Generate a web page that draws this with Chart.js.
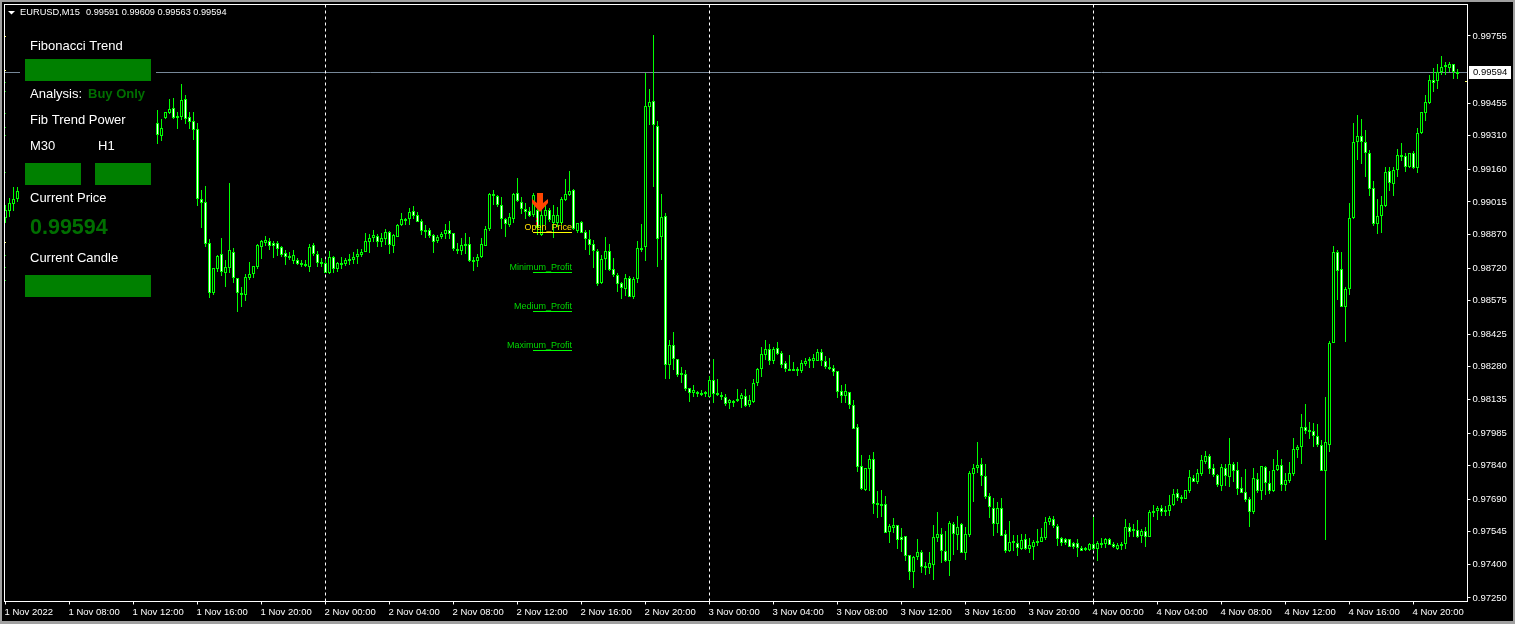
<!DOCTYPE html>
<html><head><meta charset="utf-8">
<style>
html,body{margin:0;padding:0;background:#000;overflow:hidden;width:1515px;height:624px}
canvas{position:absolute;left:0;top:0}
</style>
<script src="https://cdn.jsdelivr.net/npm/chart.js@4"></script>
</head><body>
<canvas id="c" width="1515" height="624"></canvas>
<script>
// prices are in points (1 point = 0.00001); candles 4..37 lie behind the panel and cannot be read
const HIDDEN = new Array(34).fill(null);
const opens = [98943,98975,99006,99028,...HIDDEN,
99367,99309,99389,99411,99434,99398,99394,99474,99394,99376,
99340,99028,99015,98832,98609,98716,98783,98698,98720,98792,
98676,98609,98600,98676,98694,98725,98814,98832,98841,98832,
98832,98814,98787,98774,98752,98756,98743,98738,98725,98823,
98783,98747,98743,98698,98770,98716,98734,98738,98752,98756,
98770,98778,98792,98836,98854,98863,98836,98850,98881,98819,
98859,98912,98935,98939,98975,98957,98930,98890,98890,98868,
98841,98859,98872,98890,98876,98805,98796,98823,98827,98756,
98752,98770,98819,98894,99050,99041,99002,98939,98912,98939,
99055,99015,98983,98975,98957,98979,98868,98952,98979,98921,
98921,98921,99024,99046,99068,98885,98925,98881,98850,98827,
98796,98654,98761,98796,98716,98689,98654,98627,98676,98591,
98671,98805,98814,99438,99465,99353,98859,98952,98288,98377,
98315,98252,98248,98186,98163,98168,98163,98159,98146,98221,
98163,98155,98146,98119,98128,98128,98137,98150,98110,98123,
98208,98270,98333,98359,98306,98364,98342,98297,98270,98270,
98270,98261,98293,98306,98306,98306,98346,98306,98279,98275,
98261,98172,98150,98168,98110,98012,97838,97731,97825,97869,
97673,97669,97669,97544,97562,97575,97522,97526,97441,97365,
97432,97455,97392,97383,97397,97517,97535,97459,97415,97580,
97531,97580,97450,97531,97803,97829,97847,97794,97704,97651,
97580,97651,97535,97459,97495,97495,97468,97513,97468,97477,
97499,97499,97517,97588,97602,97571,97517,97513,97513,97495,
97495,97472,97464,97464,97490,97468,97495,97490,97513,97490,
97468,97481,97490,97566,97557,97553,97526,97548,97522,97629,
97638,97651,97642,97638,97664,97718,97700,97691,97727,97785,
97767,97803,97856,97883,97829,97798,97749,97829,97789,97847,
97820,97740,97722,97691,97633,97780,97727,97834,97763,97727,
97820,97843,97754,97771,97803,97909,97923,98012,97999,97994,
97972,97932,97816,97932,98386,98792,98716,98547,98627,98943,
99282,99309,99282,99233,99077,98917,98952,98997,99153,99095,
99157,99219,99219,99171,99233,99166,99322,99411,99456,99558,
99554,99594,99616,99612,99630,99591];
const highs = [99002,99032,99082,99082,...HIDDEN,
99425,99385,99416,99474,99478,99416,99541,99492,99416,99416,
99367,99068,99086,98850,98720,98778,98854,98756,99099,98810,
98676,98636,98694,98747,98729,98827,98845,98863,98854,98841,
98841,98819,98801,98792,98801,98765,98756,98756,98827,98832,
98796,98765,98756,98796,98774,98747,98770,98765,98783,98792,
98805,98805,98876,98872,98890,98872,98876,98894,98885,98872,
98917,98966,98943,98988,98997,98970,98939,98912,98899,98872,
98868,98881,98917,98930,98876,98832,98854,98876,98859,98770,
98783,98854,98908,99055,99068,99046,99037,98943,98966,99055,
99122,99037,99010,98992,99055,99046,98979,99002,98988,99002,
98992,99037,99117,99153,99073,98921,98930,98890,98890,98845,
98805,98778,98859,98827,98765,98698,98658,98694,98685,98680,
98841,98917,99590,99518,99759,99376,99050,98966,98400,98435,
98315,98279,98266,98186,98199,98172,98177,98172,98239,98315,
98226,98168,98159,98137,98132,98181,98163,98181,98155,98226,
98275,98368,98400,98382,98368,98391,98351,98306,98333,98302,
98279,98310,98319,98324,98337,98359,98359,98328,98319,98288,
98261,98199,98204,98168,98132,98025,97887,97829,97887,97900,
97727,97731,97704,97579,97606,97575,97562,97526,97441,97437,
97513,97464,97410,97455,97575,97633,97562,97548,97593,97588,
97615,97584,97566,97816,97847,97945,97874,97847,97718,97695,
97678,97695,97553,97593,97531,97531,97535,97535,97517,97508,
97557,97562,97611,97615,97615,97579,97522,97517,97513,97499,
97513,97481,97477,97495,97611,97504,97517,97517,97517,97499,
97495,97499,97602,97584,97580,97597,97557,97566,97642,97664,
97660,97664,97660,97709,97736,97736,97709,97731,97820,97798,
97825,97887,97905,97891,97847,97803,97847,97847,97963,97856,
97856,97789,97825,97700,97829,97807,97838,97838,97816,97869,
97909,97869,97807,97856,97963,97932,98070,98114,98034,98030,
98025,97954,98146,98395,98819,98801,98792,98636,99010,99367,
99402,99385,99336,99246,99108,99028,99041,99171,99171,99171,
99251,99278,99233,99233,99242,99345,99416,99492,99581,99612,
99630,99665,99639,99639,99630,99609];
const lows = [98921,98948,98975,99015,...HIDDEN,
99273,99287,99385,99407,99385,99340,99380,99362,99340,99291,
98997,98899,98814,98587,98600,98703,98685,98636,98698,98654,
98524,98547,98573,98667,98676,98716,98761,98819,98801,98765,
98774,98770,98734,98756,98738,98734,98725,98725,98703,98774,
98725,98725,98698,98694,98698,98703,98716,98729,98734,98738,
98738,98770,98792,98787,98836,98814,98814,98823,98783,98787,
98859,98908,98912,98912,98939,98925,98868,98854,98854,98787,
98832,98850,98850,98850,98796,98783,98778,98783,98747,98707,
98725,98765,98819,98885,99002,98992,98894,98859,98903,98921,
99015,98961,98939,98948,98948,98868,98863,98912,98925,98854,
98903,98912,99019,99041,98890,98876,98876,98801,98778,98720,
98640,98649,98712,98707,98680,98614,98582,98596,98591,98582,
98654,98792,98752,99358,99082,98725,98756,98226,98226,98266,
98235,98208,98172,98123,98146,98146,98150,98146,98146,98119,
98150,98132,98105,98092,98101,98123,98096,98101,98101,98119,
98195,98235,98310,98288,98293,98333,98275,98257,98266,98261,
98239,98252,98284,98275,98275,98306,98284,98270,98266,98239,
98141,98119,98119,98092,98003,97811,97731,97727,97727,97624,
97606,97611,97539,97495,97539,97468,97455,97415,97330,97294,
97419,97361,97352,97357,97330,97499,97406,97410,97348,97441,
97464,97450,97419,97522,97678,97807,97749,97691,97606,97526,
97540,97526,97450,97455,97459,97437,97464,97464,97450,97419,
97481,97499,97508,97575,97562,97481,97481,97486,97477,97468,
97432,97459,97459,97459,97464,97415,97472,97472,97486,97472,
97464,97464,97468,97522,97522,97517,97495,97477,97522,97611,
97597,97615,97615,97615,97660,97682,97673,97691,97718,97767,
97758,97794,97847,97803,97789,97745,97727,97749,97745,97767,
97709,97718,97678,97566,97624,97718,97687,97709,97713,97722,
97816,97727,97727,97762,97794,97874,97847,97981,97958,97923,
97923,97816,97508,97900,98386,98578,98547,98391,98600,98939,
99202,99184,99126,99041,98908,98872,98876,98992,99064,99041,
99126,99197,99148,99166,99162,99144,99318,99376,99451,99505,
99518,99581,99581,99594,99563,99563];
const closes = [98979,99010,99028,99064,...HIDDEN,
99313,99344,99416,99429,99389,99389,99469,99385,99371,99336,
99028,99010,98827,98609,98720,98774,98703,98725,98801,98676,
98609,98600,98680,98694,98729,98823,98841,98845,98819,98819,
98805,98778,98770,98770,98778,98738,98734,98729,98814,98783,
98743,98738,98698,98770,98716,98743,98743,98756,98761,98770,
98783,98792,98841,98854,98868,98836,98854,98881,98823,98868,
98912,98939,98939,98970,98952,98925,98885,98885,98863,98836,
98859,98872,98890,98872,98805,98796,98823,98827,98752,98752,
98770,98827,98894,99050,99046,99002,98939,98917,98948,99050,
99019,98983,98970,98952,99046,98899,98957,98979,98935,98957,
98957,99028,99050,99064,98894,98921,98876,98850,98823,98796,
98649,98761,98796,98712,98689,98649,98631,98676,98591,98671,
98810,98810,99443,99460,99358,98850,98948,98288,98377,98315,
98243,98243,98181,98163,98177,98159,98155,98168,98221,98159,
98155,98146,98114,98132,98123,98137,98155,98105,98132,98208,
98270,98337,98359,98306,98359,98337,98288,98270,98266,98266,
98261,98297,98306,98315,98319,98346,98306,98279,98275,98257,
98168,98150,98172,98110,98003,97834,97736,97829,97869,97669,
97669,97660,97540,97571,97575,97508,97508,97437,97365,97432,
97455,97388,97383,97406,97522,97535,97459,97415,97584,97535,
97566,97450,97535,97807,97829,97843,97794,97700,97656,97580,
97651,97526,97459,97499,97504,97472,97508,97468,97486,97499,
97504,97522,97588,97606,97571,97513,97495,97495,97477,97477,
97472,97459,97472,97490,97468,97495,97486,97513,97486,97477,
97486,97490,97566,97544,97548,97522,97548,97522,97633,97638,
97651,97633,97633,97664,97713,97695,97691,97731,97789,97767,
97807,97865,97883,97825,97798,97754,97834,97794,97847,97816,
97736,97718,97687,97633,97785,97727,97838,97763,97727,97820,
97843,97754,97776,97807,97914,97923,98012,97994,97990,97972,
97932,97816,97945,98386,98792,98707,98547,98627,98943,99282,
99309,99282,99233,99073,98917,98952,99002,99148,99099,99157,
99224,99224,99171,99233,99166,99322,99416,99460,99558,99545,
99594,99616,99625,99630,99594,99594];

const priceTicks = [99755,99455,99310,99160,99015,98870,98720,98575,98425,98280,98135,97985,97840,97690,97545,97400,97250];
const timeTickIndex = [0,16,32,48,64,80,96,112,128,144,160,176,192,208,224,240,256,272,288,304,320,336,352];
const timeLabels = ['1 Nov 2022','1 Nov 08:00','1 Nov 12:00','1 Nov 16:00','1 Nov 20:00','2 Nov 00:00','2 Nov 04:00','2 Nov 08:00','2 Nov 12:00','2 Nov 16:00','2 Nov 20:00','3 Nov 00:00','3 Nov 04:00','3 Nov 08:00','3 Nov 12:00','3 Nov 16:00','3 Nov 20:00','4 Nov 00:00','4 Nov 04:00','4 Nov 08:00','4 Nov 12:00','4 Nov 16:00','4 Nov 20:00'];
const separatorIndex = [80,176,272];
const lastPrice = 99594;
const AXISFONT = '"Liberation Sans"';

const visible = opens.map((o,i)=>i).filter(i=>opens[i]!==null);
const wickData = visible.map(i=>({x:i,y:[lows[i],highs[i]]}));
const bodyData = visible.map(i=>({x:i,y:[Math.min(opens[i],closes[i]),Math.max(opens[i],closes[i])]}));
const bodyFill = visible.map(i=>closes[i]>=opens[i]?'#000000':'#ffffff');

const snap = {
  id:'snap',
  afterDatasetsUpdate(chart){
    chart.data.datasets.forEach((d,di)=>{
      const min=di===1?2:1;
      chart.getDatasetMeta(di).data.forEach(el=>{
        let t=Math.round(Math.min(el.y,el.base)), b=Math.round(Math.max(el.y,el.base));
        if(b-t<min) b=t+min;
        el.y=t; el.base=b; el.height=b-t;
      });
    });
  }
};

function text(ctx,s,x,y,font,color,align){
  ctx.font=font; ctx.fillStyle=color; ctx.textAlign=align||'left'; ctx.textBaseline='middle';
  ctx.fillText(s,x,y);
}

const decor = {
  id:'decor',
  beforeDatasetsDraw(chart){
    const ctx=chart.ctx, a=chart.chartArea, xs=chart.scales.x, ys=chart.scales.y;
    ctx.save();
    const py=Math.round(ys.getPixelForValue(lastPrice))+0.5;
    ctx.strokeStyle='#778899'; ctx.lineWidth=1;
    ctx.beginPath(); ctx.moveTo(a.left,py); ctx.lineTo(a.right,py); ctx.stroke();
    ctx.strokeStyle='#ffffff'; ctx.setLineDash([3,3]);
    separatorIndex.forEach(i=>{
      const x=xs.getPixelForValue(i);
      ctx.beginPath(); ctx.moveTo(x,a.top); ctx.lineTo(x,a.bottom); ctx.stroke();
    });
    ctx.restore();
  },
  afterDraw(chart){
    const ctx=chart.ctx, a=chart.chartArea;
    ctx.save();
    // plot frame
    ctx.strokeStyle='#ffffff'; ctx.lineWidth=1;
    ctx.strokeRect(a.left,a.top,a.right-a.left,a.bottom-a.top);
    // window edge
    ctx.fillStyle='#a0a0a0';
    ctx.fillRect(0,0,1515,2); ctx.fillRect(0,0,2,624); ctx.fillRect(1513,0,2,624); ctx.fillRect(0,621,1515,3);
    // small level marks on the frame
    ctx.fillStyle='#ffff66';
    [36,70,242].forEach(y=>ctx.fillRect(5,y,1,1));
    ctx.fillRect(1465,81,2,1);
    ctx.fillStyle='#00c000';
    [82,91,113,127,135,172,255,267,280].forEach(y=>ctx.fillRect(5,y,1,1));
    // header
    ctx.fillStyle='#ffffff';
    ctx.beginPath(); ctx.moveTo(8,11); ctx.lineTo(15,11); ctx.lineTo(11.5,14.5); ctx.closePath(); ctx.fill();
    text(ctx,'EURUSD,M15',20,12.5,'9.3px '+AXISFONT,'#ffffff');
    text(ctx,'0.99591 0.99609 0.99563 0.99594',86,12.5,'9.2px '+AXISFONT,'#ffffff');
    // current price tag
    ctx.fillStyle='#ffffff'; ctx.fillRect(1469,66,42,13);
    text(ctx,'0.99594',1473,72.5,'9.5px '+AXISFONT,'#000000');
    // panel
    ctx.fillStyle='#000000'; ctx.fillRect(20,25,136,278);
    const G='#008000';
    ctx.fillStyle=G;
    ctx.fillRect(25,59,126,22); ctx.fillRect(25,163,56,22); ctx.fillRect(95,163,56,22); ctx.fillRect(25,275,126,22);
    const F='13px "Liberation Sans"', W='#ffffff';
    text(ctx,'Fibonacci Trend',30,46,F,W);
    text(ctx,'Analysis:',30,94,F,W);
    text(ctx,'Buy Only',88,94,'bold 13px "Liberation Sans"','#006f00');
    text(ctx,'Fib Trend Power',30,120,F,W);
    text(ctx,'M30',30,146,F,W);
    text(ctx,'H1',98,146,F,W);
    text(ctx,'Current Price',30,198,F,W);
    text(ctx,'0.99594',30,228,'bold 21.5px "Liberation Sans"','#006f00');
    text(ctx,'Current Candle',30,258,F,W);
    // trade levels
    const lv=[['Open_Price',228,232.5,'#ffff00'],['Minimum_Profit',268,272.5,'#00ff00'],['Medium_Profit',307,311.5,'#00ff00'],['Maximum_Profit',346,350.5,'#00ff00']];
    lv.forEach(l=>{
      text(ctx,l[0],572,l[1],'9px '+AXISFONT,l[3]==='#ffff00'?'#ffe000':'#00d800','right');
      ctx.strokeStyle=l[3]; ctx.lineWidth=1;
      ctx.beginPath(); ctx.moveTo(533,l[2]); ctx.lineTo(572,l[2]); ctx.stroke();
    });
    // signal arrow
    ctx.fillStyle='#ff4500';
    ctx.beginPath();
    ctx.moveTo(537,193); ctx.lineTo(543,193); ctx.lineTo(543,203); ctx.lineTo(548,199);
    ctx.lineTo(548,203); ctx.lineTo(540,212); ctx.lineTo(532,203); ctx.lineTo(532,199); ctx.lineTo(537,203);
    ctx.closePath(); ctx.fill();
    ctx.fillStyle='#ff0000'; ctx.fillRect(536,218,1,2); ctx.fillRect(536,222,1,3);
    ctx.restore();
  }
};

function noPad(s){s.paddingTop=0;s.paddingBottom=0;s.paddingLeft=0;s.paddingRight=0;}

new Chart(document.getElementById('c'),{
  type:'bar',
  data:{datasets:[
    {data:wickData,order:2,barThickness:1,backgroundColor:'#00ff00',borderWidth:0,inflateAmount:0,grouped:false},
    {data:bodyData,order:1,barThickness:3,backgroundColor:bodyFill,borderColor:'#00ff00',borderWidth:1,inflateAmount:0,borderSkipped:false,grouped:false}
  ]},
  options:{
    responsive:false,animation:false,devicePixelRatio:1,events:[],
    layout:{padding:{left:4.5,top:4.5,right:0,bottom:0}},
    plugins:{legend:{display:false},tooltip:{enabled:false}},
    scales:{
      x:{type:'linear',position:'bottom',offset:false,min:-0.25,max:365.5,
        afterFit(s){s.height=22.5;noPad(s);},
        afterBuildTicks(s){s.ticks=timeTickIndex.map(v=>({value:v}));},
        border:{display:true,color:'#ffffff',width:1},
        grid:{display:true,drawOnChartArea:false,drawTicks:true,tickLength:3,tickColor:'#ffffff',offset:false},
        ticks:{autoSkip:false,maxRotation:0,minRotation:0,align:'start',padding:2,labelOffset:-1,color:'#ffffff',
          font:{family:AXISFONT,size:9.5},
          callback(v){const k=timeTickIndex.indexOf(v);return k<0?'':timeLabels[k];}}
      },
      y:{type:'linear',position:'right',min:97234,max:99895,
        afterFit(s){s.width=47.5;noPad(s);},
        afterBuildTicks(s){s.ticks=priceTicks.map(v=>({value:v}));},
        border:{display:true,color:'#ffffff',width:1},
        grid:{display:true,drawOnChartArea:false,drawTicks:true,tickLength:3,tickColor:'#ffffff'},
        ticks:{autoSkip:false,padding:2,color:'#ffffff',font:{family:AXISFONT,size:9.5},
          callback(v){return (v/100000).toFixed(5);}}
      }
    }
  },
  plugins:[snap,decor]
});
</script>
</body></html>
